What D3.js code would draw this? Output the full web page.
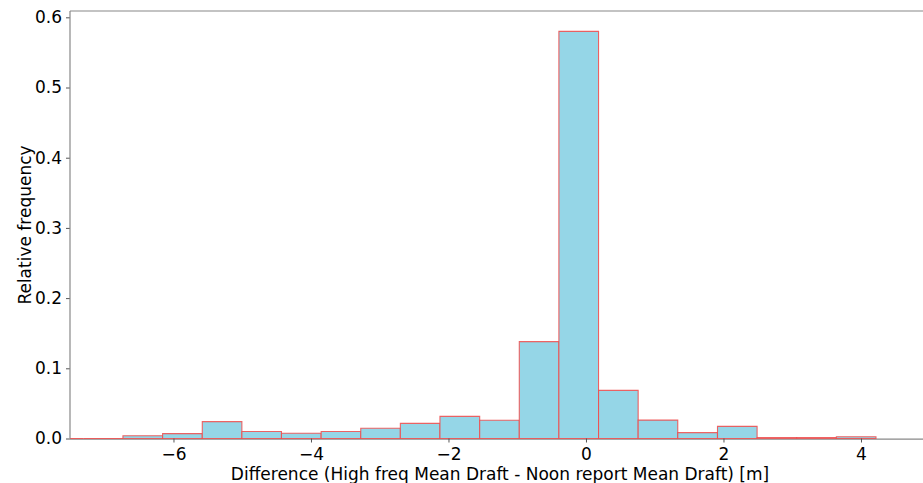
<!DOCTYPE html>
<html>
<head>
<meta charset="utf-8">
<script src="https://cdn.jsdelivr.net/npm/d3@7"></script>
<style>
  body { margin: 0; background: #fff; }
  text { font-family: "DejaVu Sans", sans-serif; fill: #000; }
</style>
</head>
<body>
<div id="chart"></div>
<script>
// bin edges (m), one more edge than values
var binEdges = [-7.888, -7.311, -6.735, -6.158, -5.581, -5.005, -4.429, -3.852, -3.276,
                -2.700, -2.124, -1.546, -0.970, -0.394, 0.183, 0.759, 1.335, 1.913,
                2.489, 3.065, 3.642, 4.218];
var relFreq = [0, 0, 0.004, 0.007, 0.024, 0.010, 0.0075, 0.010, 0.0145,
               0.0215, 0.0315, 0.026, 0.138, 0.580, 0.0685, 0.0262, 0.0083, 0.0173,
               0.0012, 0.0012, 0.0025];
var xTicks = [-6, -4, -2, 0, 2, 4];
var yTicks = [0, 0.1, 0.2, 0.3, 0.4, 0.5, 0.6];

var W = 923, H = 483;
var margin = {top: 11, right: 0, bottom: 45, left: 70};
var width = W - margin.left - margin.right,
    height = 438.5 - margin.top;

var svg = d3.select("#chart")
  .append("svg")
    .attr("width", W)
    .attr("height", H);

svg.append("defs").append("clipPath").attr("id", "plotclip")
  .append("rect").attr("x", 0).attr("y", -2).attr("width", width).attr("height", height + 4);

var g = svg.append("g")
    .attr("transform", "translate(" + margin.left + "," + margin.top + ")");

var x = d3.scaleLinear().domain([-7.505, 4.902]).range([0, width]);
var y = d3.scaleLinear().domain([0, 0.609]).range([height, 0]);

var bins = relFreq.map(function(v, i) {
  return {x0: binEdges[i], x1: binEdges[i + 1], v: v};
});

// bottom spine under the bars so the zero bins show their red edge
g.append("line").attr("x1", 0).attr("x2", width).attr("y1", height + 0.6).attr("y2", height + 0.6)
  .attr("stroke", "#888").attr("stroke-width", 1.4);

// bars as closed paths (a zero-height rect would not be drawn)
g.append("g").attr("clip-path", "url(#plotclip)")
  .selectAll("path")
  .data(bins)
  .enter()
  .append("path")
    .attr("d", function(d) {
      var p = d3.path();
      p.moveTo(x(d.x0), y(0));
      p.lineTo(x(d.x0), y(d.v));
      p.lineTo(x(d.x1), y(d.v));
      p.lineTo(x(d.x1), y(0));
      p.closePath();
      return p.toString();
    })
    .attr("fill", "#95d6e7")
    .attr("stroke", "#f04a4a")
    .attr("stroke-opacity", 0.85)
    .attr("stroke-width", 1.1);

// axes
var fmtX = function(d) { return d < 0 ? "\u2212" + Math.abs(d) : d; };
var xAxis = g.append("g")
    .attr("transform", "translate(0," + height + ")")
    .call(d3.axisBottom(x).tickValues(xTicks).tickSize(4).tickPadding(5).tickFormat(fmtX));
var yAxis = g.append("g")
    .call(d3.axisLeft(y).tickValues(yTicks).tickSize(4).tickPadding(4)
      .tickFormat(d3.format(".1f")));

[xAxis, yAxis].forEach(function(a) {
  a.select(".domain").remove();
  a.selectAll("line").attr("stroke", "#555");
  a.selectAll("text").style("font-size", "17px").attr("fill", "#000");
});

// left and top spines (right one is outside the picture)
g.append("line").attr("x1", 0).attr("x2", 0).attr("y1", 0).attr("y2", height)
  .attr("stroke", "#888").attr("stroke-width", 1.2);
g.append("line").attr("x1", 0).attr("x2", width).attr("y1", 0).attr("y2", 0)
  .attr("stroke", "#888").attr("stroke-width", 1.2);

// labels
svg.append("text")
    .attr("x", 500)
    .attr("y", 480)
    .attr("text-anchor", "middle")
    .style("font-size", "17px")
    .text("Difference (High freq Mean Draft - Noon report Mean Draft) [m]");

svg.append("text")
    .attr("transform", "translate(31," + 225 + ") rotate(-90)")
    .attr("text-anchor", "middle")
    .style("font-size", "17px")
    .text("Relative frequency");
</script>
</body>
</html>
